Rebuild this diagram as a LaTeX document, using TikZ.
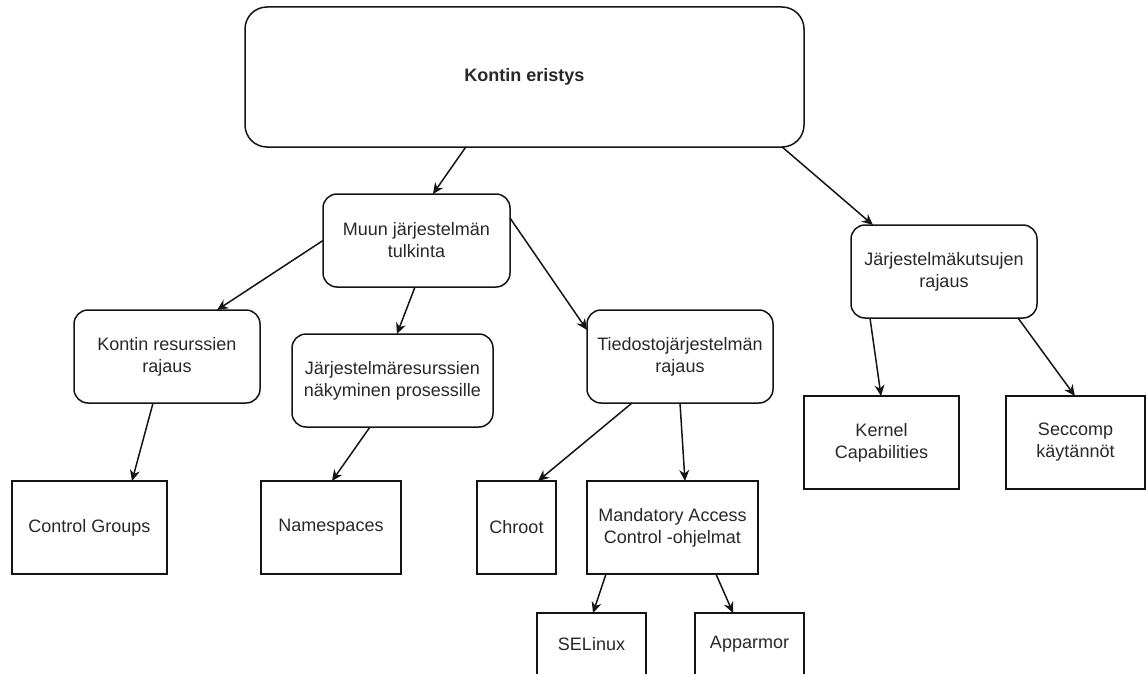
\documentclass[tikz,border=0pt]{standalone}
\usepackage{fontspec}
\setmainfont{Liberation Sans}
\usetikzlibrary{arrows.meta,calc}
\definecolor{txt}{RGB}{40,40,40}
\definecolor{ln}{RGB}{20,20,20}
\tikzset{
  base/.style={draw=ln, line width=1.5pt, inner sep=0pt, outer sep=0pt, align=center,
    text=txt, font=\fontsize{18}{22}\selectfont, fill=white},
  rbox/.style={base, rectangle, rounded corners=14pt},
  sbox/.style={base, rectangle},
  arr/.style={draw=ln, line width=1.5pt, -{Stealth[length=11pt,width=10pt,inset=3.5pt]}}
}
\begin{document}
\begin{tikzpicture}[x=1pt,y=-1pt]
\useasboundingbox (0,0) rectangle (1148,674);
\clip (0,0) rectangle (1148,674);
% nodes
\node[rbox, rounded corners=22pt, minimum width=559pt, minimum height=140pt, font=\fontsize{18}{22}\selectfont\bfseries] (top) at (524.5,77) {Kontin eristys};
\node[rbox, minimum width=187pt, minimum height=93pt] (muun) at (416.5,240.5) {Muun järjestelmän\\tulkinta};
\node[rbox, minimum width=186pt, minimum height=93pt] (kutsu) at (944,271.5) {Järjestelmäkutsujen\\rajaus};
\node[rbox, minimum width=186pt, minimum height=93pt] (resurs) at (167,356.5) {Kontin resurssien\\rajaus};
\node[rbox, minimum width=201pt, minimum height=93pt] (nakym) at (392.5,380.5) {Järjestelmäresurssien\\näkyminen prosessille};
\node[rbox, minimum width=186pt, minimum height=93pt] (tied) at (680,356.5) {Tiedostojärjestelmän\\rajaus};
\node[sbox, minimum width=155pt, minimum height=93pt] (kernel) at (881.5,442.5) {Kernel\\Capabilities};
\node[sbox, minimum width=139pt, minimum height=93pt] (seccomp) at (1075.5,442.5) {Seccomp\\käytännöt};
\node[sbox, minimum width=155pt, minimum height=93pt] (cg) at (89.5,527.5) {Control Groups};
\node[sbox, minimum width=140pt, minimum height=93pt] (ns) at (331,527.5) {Namespaces};
\node[sbox, minimum width=79pt, minimum height=93pt] (chroot) at (516.5,527.5) {Chroot};
\node[sbox, minimum width=171pt, minimum height=93pt] (mac) at (672.5,527.5) {Mandatory Access\\Control -ohjelmat};
\node[sbox, minimum width=109pt, minimum height=62pt] (selinux) at (591.5,644) {SELinux};
\node[sbox, minimum width=109pt, minimum height=62pt] (apparmor) at (749.5,644) {Apparmor};
% connectors
\draw[arr] ($(top.south west)!0.395!(top.south east)$) -- ($(muun.north west)!0.588!(muun.north east)$);
\draw[arr] ($(top.south west)!0.961!(top.south east)$) -- ($(kutsu.north west)!0.118!(kutsu.north east)$);
\draw[arr] (muun.west) -- ($(resurs.north west)!0.769!(resurs.north east)$);
\draw[arr] ($(muun.south west)!0.492!(muun.south east)$) -- ($(nakym.north west)!0.522!(nakym.north east)$);
\draw[arr] ($(muun.north east)!0.258!(muun.south east)$) -- ($(tied.north west)!0.215!(tied.south west)$);
\draw[arr] ($(resurs.south west)!0.425!(resurs.south east)$) -- ($(cg.north west)!0.774!(cg.north east)$);
\draw[arr] ($(nakym.south west)!0.388!(nakym.south east)$) -- ($(ns.north west)!0.507!(ns.north east)$);
\draw[arr] ($(tied.south west)!0.242!(tied.south east)$) -- ($(chroot.north west)!0.772!(chroot.north east)$);
\draw[arr] ($(tied.south west)!0.5!(tied.south east)$) -- ($(mac.north west)!0.573!(mac.north east)$);
\draw[arr] ($(mac.south west)!0.111!(mac.south east)$) -- ($(selinux.north west)!0.514!(selinux.north east)$);
\draw[arr] ($(mac.south west)!0.754!(mac.south east)$) -- ($(apparmor.north west)!0.349!(apparmor.north east)$);
\draw[arr] ($(kutsu.south west)!0.102!(kutsu.south east)$) -- ($(kernel.north west)!0.497!(kernel.north east)$);
\draw[arr] ($(kutsu.south west)!0.898!(kutsu.south east)$) -- ($(seccomp.north west)!0.496!(seccomp.north east)$);
\end{tikzpicture}
\end{document}
